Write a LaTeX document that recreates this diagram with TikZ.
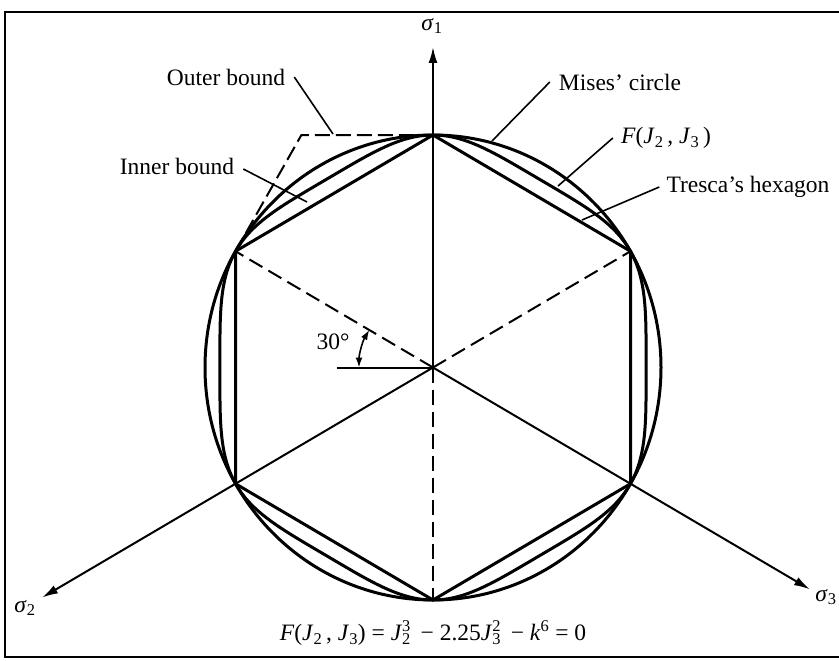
\documentclass[tikz,border=0pt]{standalone}
\usepackage{fontspec}
\setmainfont{Liberation Serif}
\usetikzlibrary{arrows.meta}
\newcommand{\mysubsup}[2]{\rlap{\textsuperscript{#2}}\textsubscript{#1}}
\begin{document}
\begin{tikzpicture}[x=1pt,y=-1pt,
  lbl/.style={font=\fontsize{23.5}{28}\selectfont, inner sep=0pt},
  thickline/.style={line width=3pt},
  axisline/.style={line width=2pt, -{Latex[length=16pt,width=9pt]}},
  dashline/.style={line width=2pt, dash pattern=on 15pt off 7pt},
  leader/.style={line width=1.6pt},
]
\useasboundingbox (0,0) rectangle (839,661);
\draw[line width=2.5pt] (839,12) -- (5,12) -- (5,657) -- (839,657);
% geometry
\coordinate (C) at (433,367.5);
\coordinate (T) at (433,135);
\coordinate (B) at (433,600);
\coordinate (UL) at (235.5,251.25);
\coordinate (UR) at (630.5,251.25);
\coordinate (LL) at (235.5,483.75);
\coordinate (LR) at (630.5,483.75);
\coordinate (OB) at (301.4,135);
% Mises circle
\draw[thickline] (C) ellipse [x radius=228, y radius=232.5];
% Tresca hexagon
\draw[thickline, line join=miter] (T) -- (UR) -- (LR) -- (B) -- (LL) -- (UL) -- cycle;
% F(J2,J3) curve
\draw[thickline] plot[domain=0:360, samples=241, smooth]
  ({433+228*0.93466*exp(-ln(1-pow(sin(3*\x),2)/3)/6)*cos(\x)},
   {367.5-232.5*0.93466*exp(-ln(1-pow(sin(3*\x),2)/3)/6)*sin(\x)}) -- cycle;
% outer bound
\draw[line width=2pt, dash pattern=on 15pt off 6pt] (UL) -- (OB) -- (T);
% axes
\coordinate (s1tip) at (433,47);
\coordinate (s2tip) at (42,597.6);
\coordinate (s3tip) at (810,589.4);
\draw[axisline] (C) -- (s1tip);
\draw[axisline] (C) -- (s2tip);
\draw[axisline] (C) -- (s3tip);
\draw[dashline] (C) -- (B);
\draw[dashline] (C) -- (UL);
\draw[dashline] (C) -- (UR);
\node[lbl] (s1) at (432,26) {\textit{σ}\textsubscript{1}};
\node[lbl] (s2) at (25,608) {\textit{σ}\textsubscript{2}};
\node[lbl] (s3) at (826,597) {\textit{σ}\textsubscript{3}};
% angle
\coordinate (A0) at (337,367.5);
\draw[line width=2pt] (A0) -- (C);
\draw[line width=1.6pt, {Latex[length=10pt,width=7pt]}-{Latex[length=10pt,width=7pt]}]
  ([xshift=-74pt]C) arc[start angle=180, end angle=149.5, radius=74pt];
\node[lbl] (ang) at (333,342) {30\textdegree};
% labels
\node[lbl] (ob) at (226,77) {Outer bound};
\node[lbl] (ib) at (177,166) {Inner bound};
\node[lbl] (mc) at (620,82) {Mises' circle};
\node[lbl] (fj) at (666,138) {\textit{F}(\textit{J}\textsubscript{2}\,, \textit{J}\textsubscript{3}\,)};
\node[lbl] (th) at (748,187) {Tresca's hexagon};
\coordinate (obp) at (333,134);
\coordinate (ibp) at (307,202);
\coordinate (mcp) at (492,141);
\coordinate (fjp) at (558,186);
\coordinate (thp) at (582,220);
\draw[leader] ([xshift=9pt]ob.east) -- (obp);
\draw[leader] ([xshift=9pt,yshift=-3pt]ib.east) -- (ibp);
\draw[leader] ([xshift=-9pt]mc.west) -- (mcp);
\draw[leader] ([xshift=-8pt]fj.west) -- (fjp);
\draw[leader] ([xshift=-7pt]th.west) -- (thp);
% formula
\node[lbl] (eq) at (433,633) {\textit{F}(\textit{J}\textsubscript{2}\,, \textit{J}\textsubscript{3}) = \textit{J}\mysubsup{2}{3}\, − 2.25\textit{J}\mysubsup{3}{2}\, − \textit{k}\textsuperscript{6} = 0};
\end{tikzpicture}
\end{document}
